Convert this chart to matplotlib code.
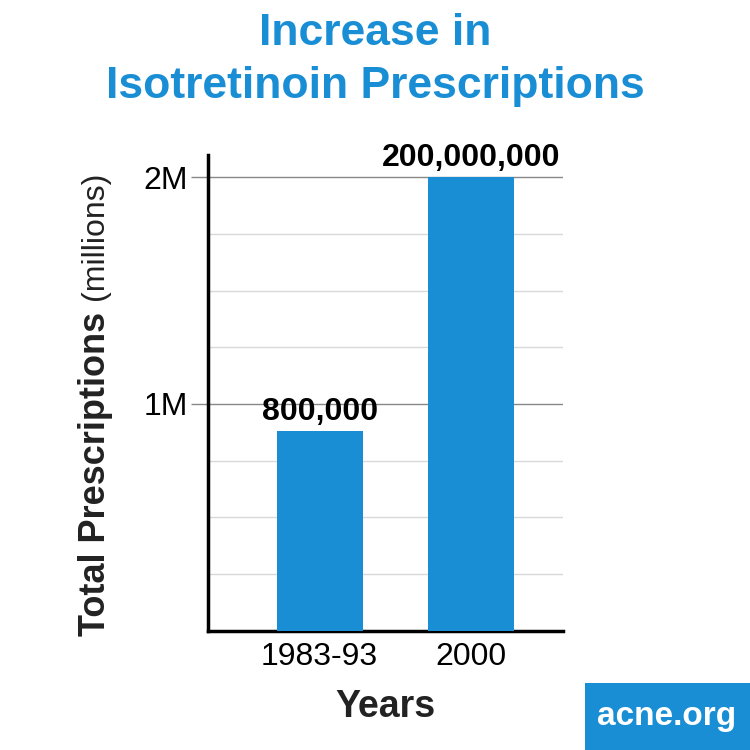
import matplotlib
matplotlib.use("Agg")
import matplotlib.pyplot as plt
from matplotlib.patches import Rectangle

plt.rcParams["font.family"] = "Liberation Sans"

categories = ["1983-93", "2000"]
values = [0.88, 2.0]
value_labels = ["800,000", "200,000,000"]
tick_vals = [1, 2]
tick_labels = ["1M", "2M"]

blue = "#1a8ed4"
fig = plt.figure(figsize=(7.5, 7.5), dpi=100)
fig.patch.set_facecolor("white")
ax = fig.add_axes([0.277, 0.159, 0.473, 0.635])
x = list(range(len(categories)))
ax.bar(x, values, width=0.566, color=blue, zorder=3)
ax.set_xlim(-0.737, 1.6)
ax.set_ylim(0, 2.1)
for g in [0.25, 0.5, 0.75, 1.25, 1.5, 1.75]:
    ax.axhline(g, color="#d9d9d9", lw=1, zorder=1)
for g in tick_vals:
    ax.axhline(g, color="#888888", lw=1, zorder=1)
ax.set_yticks(tick_vals)
ax.set_yticklabels(tick_labels, fontsize=23)
ax.tick_params(axis="y", length=12, color="#888888", width=1, pad=2)
ax.set_xticks(x)
ax.set_xticklabels(categories, fontsize=23)
ax.tick_params(axis="x", length=0, pad=8)
for s in ["top", "right"]:
    ax.spines[s].set_visible(False)
for s in ["left", "bottom"]:
    ax.spines[s].set_linewidth(2.5)
for xi, v, l in zip(x, values, value_labels):
    ax.text(xi, v + 0.02, l, ha="center", va="bottom", fontsize=23, fontweight="bold")
ax.set_xlabel("Years", fontsize=27, fontweight="bold", labelpad=12, color="#222222")

fig.text(0.5, 0.955, "Increase in", ha="center", va="center", fontsize=32, fontweight="bold", color=blue)
fig.text(0.5, 0.885, "Isotretinoin Prescriptions", ha="center", va="center", fontsize=32, fontweight="bold", color=blue)
fig.text(0.127, (750 - 636) / 750, "Total Prescriptions", rotation=90, ha="center", va="bottom",
         fontsize=26, fontweight="bold", color="#222222")
fig.text(0.127, (750 - 300) / 750, "(millions)", rotation=90, ha="center", va="bottom",
         fontsize=23, color="#222222")

fig.patches.append(Rectangle((585 / 750, 0), 165 / 750, 67 / 750, transform=fig.transFigure,
                             facecolor=blue, edgecolor="none"))
fig.text(667 / 750, 34 / 750, "acne.org", ha="center", va="center", fontsize=24,
         fontweight="bold", color="white")
fig.savefig("out.png", dpi=100)
